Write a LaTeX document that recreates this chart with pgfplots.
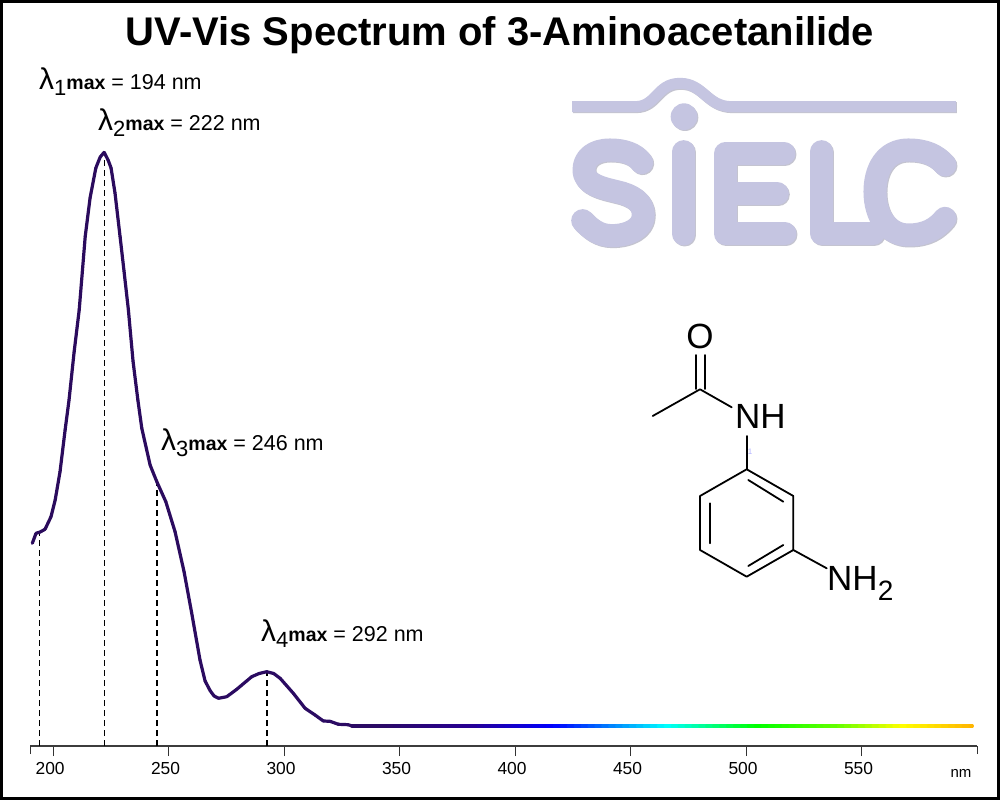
\documentclass[border=0pt]{standalone}
\usepackage{fontspec}
\setmainfont{Liberation Sans}
\usepackage{pgfplots}
\pgfplotsset{compat=1.18}
\definecolor{logo}{RGB}{197,197,225}
\definecolor{logoshade}{RGB}{196,196,208}
\definecolor{axisgray}{RGB}{60,60,60}

\newcommand{\fs}[1]{\fontsize{#1}{#1}\selectfont}
\newcommand{\lam}[4]{\node[anchor=base west,inner sep=0pt] at (#1,#2)
  {\fs{30}λ\raisebox{-6pt}{\fs{22}#3}\fs{19.5}\textbf{max}\fs{21.5} = #4 nm};}
\newcommand{\logopaths}{
  \draw (36,110) -- (225,110) .. controls (290,110) and (290,40) .. (360,40)
    .. controls (430,40) and (440,110) .. (515,110) -- (1188,110);
}
\newcommand{\logoletters}{
  \draw (245,278) .. controls (225,250) and (190,240) .. (150,240)
    .. controls (100,240) and (72,265) .. (72,300)
    .. controls (72,345) and (130,355) .. (170,365)
    .. controls (215,375) and (250,395) .. (250,435)
    .. controls (250,475) and (205,497) .. (155,497)
    .. controls (115,497) and (90,475) .. (68,452);
  \draw (372,245) -- (372,492);
  \draw (672,250) -- (497,250) -- (497,492) -- (675,492);
  \draw (497,372) -- (652,372);
  \draw (785,245) -- (785,490) -- (940,490);
  \draw (1155,285) .. controls (1130,255) and (1095,240) .. (1045,240)
    .. controls (975,240) and (945,300) .. (945,365)
    .. controls (945,440) and (985,495) .. (1045,495)
    .. controls (1100,495) and (1130,475) .. (1155,445);
}

\begin{document}
\begin{tikzpicture}[x=1pt,y=1pt]
\useasboundingbox (0,0) rectangle (1000,800);
\fill[white] (0,0) rectangle (1000,800);

% logo, zoom crop coordinates
\begin{scope}[shift={(561,729)},x=0.3333pt,y=-0.3333pt,line join=round]
  \begin{scope}[draw=logoshade,color=logoshade]
    \begin{scope}[line width=11pt,line cap=butt]\logopaths\end{scope}
    \fill (372,140) circle[radius=40];
    \begin{scope}[line width=23pt,line cap=round]\logoletters\end{scope}
  \end{scope}
\end{scope}
\begin{scope}[shift={(560,730)},x=0.3333pt,y=-0.3333pt,line join=round]
  \begin{scope}[draw=logo,color=logo]
    \begin{scope}[line width=11pt,line cap=butt]\logopaths\end{scope}
    \fill (372,140) circle[radius=40];
    \begin{scope}[line width=23pt,line cap=round]\logoletters\end{scope}
  \end{scope}
\end{scope}

\begin{axis}[
  at={(30pt,54pt)}, anchor=south west,
  scale only axis, width=947pt, height=700pt,
  xmin=190, xmax=600, ymin=0, ymax=700,
  axis x line=bottom, axis y line=none,
  axis line style={-,draw=axisgray,line width=1.2pt},
  clip=false,
  xtick={200,250,300,350,400,450,500,550},
  extra x ticks={190,600},
  extra x tick labels={},
  extra x tick style={major tick length=8pt},
  tick align=outside, major tick length=10pt,
  tick style={draw=black!80,line width=1pt},
  xticklabel style={font=\fs{17.4},xshift=-3pt,yshift=-3pt},
  /pgf/number format/assume math mode=true,
  colormap={spec}{rgb255(190pt)=(43,11,92); rgb255(340pt)=(43,11,100);
    rgb255(380pt)=(40,0,145); rgb255(417pt)=(0,0,255); rgb255(466pt)=(0,255,255);
    rgb255(505pt)=(0,255,0); rgb255(540pt)=(100,255,0); rgb255(568pt)=(255,255,0); rgb255(600pt)=(255,176,0)},
  point meta min=190, point meta max=600,
]
\addplot[black,line width=1.2pt,dash pattern=on 6pt off 4pt] coordinates {(194.2,0) (194.2,214)};
\addplot[black,line width=1.2pt,dash pattern=on 6pt off 4pt] coordinates {(222.1,0) (222.1,593)};
\addplot[black,line width=1.2pt,dash pattern=on 6pt off 4pt] coordinates {(245,0) (245,264)};
\addplot[black,line width=1.2pt,dash pattern=on 6pt off 4pt] coordinates {(292.6,0) (292.6,74)};
\addplot[mesh,point meta=x,line width=3.2pt,line cap=round,line join=round] coordinates {
(191.0,202.7) (192.6,212.7) (194.4,214) (196.5,216.7) (199.1,229.3) (200.9,246)
(203.0,274.3) (205.2,316) (206.9,346) (209.1,394) (211.3,436) (213.9,509.3)
(216.0,548) (218.5,578) (220.4,589) (222.1,593.7) (223.8,586) (225.1,578)
(226.8,553) (229.0,509.3) (230.7,475) (232.6,436) (234.6,385) (236.7,346)
(238.4,317.7) (242.0,281) (244.9,264.3) (248.8,244.3) (252.8,214.3) (256.7,174.3)
(260.0,133) (263.6,86) (265.8,65) (268.0,55.3) (269.7,50) (271.6,47.7)
(275.2,49.3) (279.5,56.7) (286.0,69.3) (289.2,72.5) (292.5,74.3) (295.5,72.5) (298.3,67.7) (304.0,52.7)
(309.1,37.7) (313.4,31) (317.0,25) (319.9,24.7) (323.5,21.7) (327.8,21.3) (329.4,20)
(333,20) (336,20) (339,20) (342,20) (345,20) (348,20) (351,20) (354,20) (357,20)
(360,20) (363,20) (366,20) (369,20) (372,20) (375,20) (378,20) (381,20) (384,20)
(387,20) (390,20) (393,20) (396,20) (399,20) (402,20) (405,20) (408,20) (411,20)
(414,20) (417,20) (420,20) (423,20) (426,20) (429,20) (432,20) (435,20) (438,20)
(441,20) (444,20) (447,20) (450,20) (453,20) (456,20) (459,20) (462,20) (465,20)
(468,20) (471,20) (474,20) (477,20) (480,20) (483,20) (486,20) (489,20) (492,20)
(495,20) (498,20) (501,20) (504,20) (507,20) (510,20) (513,20) (516,20) (519,20)
(522,20) (525,20) (528,20) (531,20) (534,20) (537,20) (540,20) (543,20) (546,20)
(549,20) (552,20) (555,20) (558,20) (561,20) (564,20) (567,20) (570,20) (573,20)
(576,20) (579,20) (582,20) (585,20) (588,20) (591,20) (594,20) (597,20) (598,20)
};
\end{axis}

\begin{scope}[shift={(0,800)},x=1pt,y=-1pt]
  % title and peak labels
  \node[anchor=base,inner sep=0pt] at (500,46) {\fs{40}\textbf{UV-Vis Spectrum of 3-Aminoacetanilide}};
  \lam{39}{90}{1}{194}
  \lam{98}{131}{2}{222}
  \lam{161}{451}{3}{246}
  \lam{261}{642}{4}{292}
  \node[anchor=base,inner sep=0pt] at (961,777) {\fs{15}nm};
  % structure
  \begin{scope}[line width=1.8pt,line cap=round,line join=round]
    \draw (652.7,416) -- (700,389.3) -- (731.7,407.3);
    \draw (695.7,389) -- (695.7,355);
    \draw (705,389) -- (705,355);
    \draw (746.7,436) -- (746.7,469.3);
    \draw (746.7,469.3) -- (793.3,496) -- (793.3,550) -- (746.7,576.7) -- (700,550) -- (700,496) -- cycle;
    \draw (748.3,480) -- (783.3,501.7);
    \draw (710,503.3) -- (710,543.3);
    \draw (783.3,545) -- (748.3,566);
    \draw (793.3,550) -- (826.7,568.3);
  \end{scope}
  \node[anchor=base,inner sep=0pt] at (700,349) {\fs{35}O};
  \node[anchor=base west,inner sep=0pt] at (735,429) {\fs{35}NH};
  \node[anchor=base west,inner sep=0pt] at (827,591) {\fs{35}NH\raisebox{-10pt}{\fs{28}2}};
  \node[anchor=base,inner sep=0pt,text=blue!30] at (750,455) {\fs{8}1};
  % frame
  \draw[black,line width=3pt] (1.5,1.5) rectangle (998.5,798.5);
\end{scope}
\end{tikzpicture}
\end{document}
